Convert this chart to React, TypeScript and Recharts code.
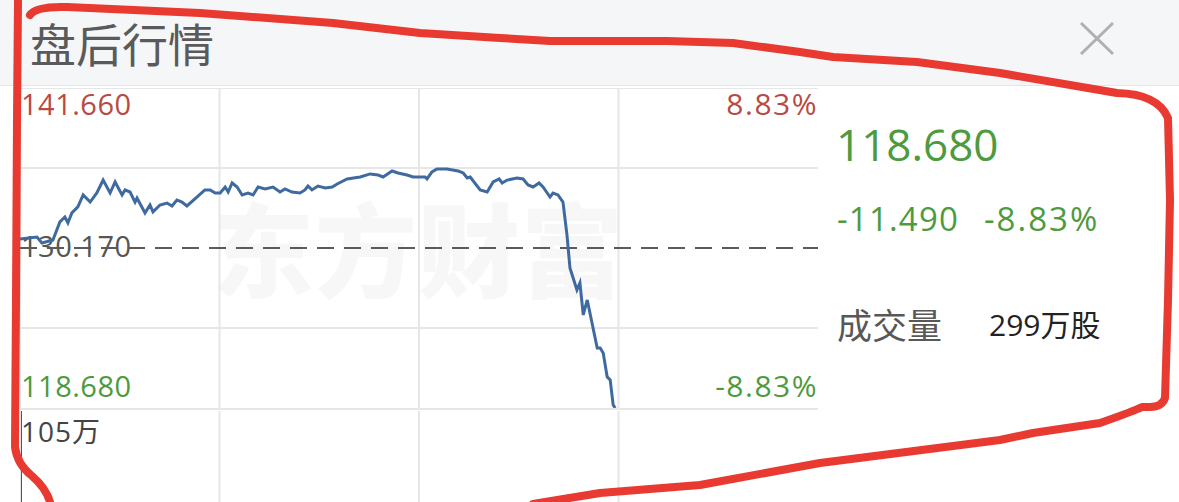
import { LineChart, Line, XAxis, YAxis, ReferenceLine, BarChart, Bar } from 'recharts';

// minute of session (0..240) and last price
const minutes = [
  0, 5.1, 6.6, 9.9, 12.0, 13.5, 14.4, 15.6, 17.4, 19.0, 21.1, 23.1, 25.0, 27.1, 28.6, 30.7, 31.6, 33.1, 34.6, 35.2,
  37.6, 39.1, 40.0, 42.1, 44.2, 45.7, 47.2, 48.7, 50.2, 53.2, 55.6, 57.2, 58.7, 60.2, 61.7, 62.6, 63.8, 65.3, 66.8,
  68.6, 70.1, 71.6, 73.7, 76.1, 78.2, 79.7, 81.8, 84.2, 85.7, 86.6, 87.8, 89.6, 91.8, 93.9, 95.4, 98.4, 102.3, 105.3,
  107.7, 109.2, 111.9, 113.7, 116.4, 118.2, 121.8, 122.4, 123.9, 125.4, 128.4, 131.8, 133.3, 134.5, 135.4, 138.4,
  140.5, 142.3, 144.1, 145.0, 146.5, 149.5, 151.3, 152.8, 154.3, 156.1, 157.3, 159.4, 160.3, 161.8, 163.3, 164.5,
  165.4, 167.5, 168.4, 169.4, 170.6, 173.6, 174.5, 175.4, 176.6, 177.5, 178.4, 179.0,
];
const prices = [
  130.82, 130.96, 130.53, 130.75, 132.04, 132.4, 131.97, 132.69, 133.12, 133.98, 133.47, 134.12, 135.05, 134.12,
  134.91, 133.98, 134.34, 134.19, 133.47, 133.76, 132.69, 133.26, 132.76, 133.26, 133.4, 133.19, 133.62, 133.47,
  133.19, 133.83, 134.34, 134.34, 134.12, 134.12, 134.55, 134.19, 134.84, 134.55, 133.98, 134.12, 133.98, 134.55,
  134.41, 134.55, 134.19, 134.41, 134.19, 134.12, 134.34, 134.62, 134.34, 134.62, 134.48, 134.55, 134.77, 135.13,
  135.27, 135.49, 135.41, 135.27, 135.7, 135.56, 135.41, 135.27, 135.27, 135.13, 135.63, 135.84, 135.84, 135.7,
  135.56, 135.2, 135.27, 134.34, 134.19, 134.91, 135.13, 134.84, 135.05, 135.2, 135.13, 134.7, 134.55, 134.84,
  134.55, 133.83, 134.12, 133.98, 133.47, 131.11, 128.74, 127.16, 127.66, 125.36, 126.44, 122.99, 122.99, 122.63,
  120.91, 120.7, 118.9, 118.68,
];

const volMinutes = [0];
const volumes = [105]; // 万股

const prevClose = 130.17;
const limitUp = 141.66;
const limitDown = 118.68;
const priceGrid = [124.425, 135.915, 141.66];
const timeGrid = [0, 60, 120, 180];

const leftLabels = ['141.660', '130.170', '118.680'];
const rightLabels = ['8.83%', '-8.83%'];
const volLabel = '105万';

const lastPrice = '118.680';
const change = '-11.490';
const changePct = '-8.83%';
const volumeLabel = '成交量';
const volumeText = '299万股';

const lineData = minutes.map((t, i) => ({ t, p: prices[i] }));
const volData = volMinutes.map((t, i) => ({ t, v: volumes[i] }));

const RED = '#b84a44';
const GREEN = '#4e9a3e';
const GRID = '#e6e6e6';
const NUM = '"Open Sans", "Noto Sans CJK SC", sans-serif';
const CJK = '"Noto Sans CJK SC", "Open Sans", sans-serif';

export default function App() {
  return (
    <div
      style={{
        position: 'fixed',
        left: 0,
        top: 0,
        width: 1179,
        height: 502,
        overflow: 'hidden',
        background: '#fff',
        fontFamily: NUM,
      }}
    >
      {/* header */}
      <div
        style={{
          position: 'absolute',
          left: 0,
          top: 0,
          width: 1179,
          height: 85,
          background: '#f5f6f8',
          borderBottom: '1px solid #e4e5e8',
        }}
      >
        <div style={{ position: 'absolute', left: 30, top: 12, fontSize: 46, color: '#5a5a5a', fontFamily: CJK, lineHeight: '60px' }}>
          盘后行情
        </div>
        <svg style={{ position: 'absolute', left: 1078, top: 20 }} width={38} height={38}>
          <line x1={3} y1={3} x2={35} y2={34} stroke="#b0b0b0" strokeWidth={3} />
          <line x1={35} y1={3} x2={3} y2={34} stroke="#b0b0b0" strokeWidth={3} />
        </svg>
      </div>

      {/* watermark */}
      <div
        style={{
          position: 'absolute',
          left: 212,
          top: 176,
          fontSize: 102,
          fontWeight: 900,
          color: '#f7f7f8',
          fontFamily: CJK,
          lineHeight: '140px',
          letterSpacing: 1,
        }}
      >
        东方财富
      </div>

      {/* axis labels under the chart */}
      <div style={{ position: 'absolute', left: 21, top: 85, fontSize: 29, color: RED, lineHeight: '38px', letterSpacing: 0.5 }}>{leftLabels[0]}</div>
      <div style={{ position: 'absolute', left: 21, top: 227, fontSize: 29, color: '#555', lineHeight: '38px', letterSpacing: 0.5 }}>{leftLabels[1]}</div>
      <div style={{ position: 'absolute', left: 21, top: 367, fontSize: 29, color: GREEN, lineHeight: '38px', letterSpacing: 0.5 }}>{leftLabels[2]}</div>
      <div style={{ position: 'absolute', right: 1179 - 818, top: 85, fontSize: 30, color: RED, lineHeight: '38px', letterSpacing: 1.5 }}>{rightLabels[0]}</div>
      <div style={{ position: 'absolute', right: 1179 - 818, top: 367, fontSize: 30, color: GREEN, lineHeight: '38px', letterSpacing: 1.5 }}>{rightLabels[1]}</div>
      <div style={{ position: 'absolute', left: 21, top: 412, fontSize: 28, color: '#444', lineHeight: '38px', letterSpacing: 1 }}>{volLabel}</div>

      {/* price chart */}
      <div style={{ position: 'absolute', left: 20, top: 88 }}>
        <LineChart width={798} height={320} data={lineData} margin={{ top: 0, right: 0, bottom: 0, left: 0 }}>
          <XAxis dataKey="t" type="number" domain={[0, 240]} hide />
          <YAxis type="number" domain={[limitDown, limitUp]} hide />
          {priceGrid.map((p) => (
            <ReferenceLine key={p} y={p} stroke={GRID} strokeWidth={2} />
          ))}
          {timeGrid.map((t) => (
            <ReferenceLine key={t} x={t} stroke={GRID} strokeWidth={2} />
          ))}
          <ReferenceLine y={prevClose} stroke="#5a5a5a" strokeWidth={2} strokeDasharray="17 10" />
          <Line dataKey="p" type="linear" stroke="#3f6a9f" strokeWidth={3} dot={false} isAnimationActive={false} />
        </LineChart>
      </div>

      {/* volume chart */}
      <div style={{ position: 'absolute', left: 20, top: 409 }}>
        <BarChart width={798} height={160} data={volData} margin={{ top: 2, right: 0, bottom: 0, left: 0 }}>
          <XAxis dataKey="t" type="number" domain={[0, 240]} hide />
          <YAxis type="number" domain={[0, 105]} hide />
          {timeGrid.map((t) => (
            <ReferenceLine key={t} x={t} stroke={GRID} strokeWidth={2} />
          ))}
          <Bar dataKey="v" fill="#555" barSize={3} isAnimationActive={false} />
        </BarChart>
      </div>
      <div style={{ position: 'absolute', left: 20, top: 408, width: 798, height: 2, background: GRID }} />

      {/* right panel */}
      <div style={{ position: 'absolute', left: 836, top: 115, fontSize: 44, color: GREEN, lineHeight: '58px' }}>{lastPrice}</div>
      <div style={{ position: 'absolute', left: 837, top: 197, fontSize: 33, color: GREEN, lineHeight: '44px', letterSpacing: 1.2 }}>{change}</div>
      <div style={{ position: 'absolute', left: 984, top: 197, fontSize: 33, color: GREEN, lineHeight: '44px', letterSpacing: 2 }}>{changePct}</div>
      <div style={{ position: 'absolute', left: 837, top: 300, fontSize: 35, color: '#585858', lineHeight: '48px', fontFamily: CJK }}>{volumeLabel}</div>
      <div style={{ position: 'absolute', left: 989, top: 304, fontSize: 30, color: '#222', lineHeight: '42px' }}>{volumeText}</div>

      {/* hand-drawn red marking */}
      <svg style={{ position: 'absolute', left: 0, top: 0, pointerEvents: 'none' }} width={1179} height={502}>
        <path
          d="M 18 0 L 17 120 L 16 300 L 15 447 Q 17 464 32 476 Q 46 488 50 502"
          fill="none"
          stroke="#e83a30"
          strokeWidth={8}
          strokeLinecap="round"
          strokeLinejoin="round"
        />
        <path
          d="M 30 15 Q 36 6 67 7 L 200 13 L 333 23 L 420 33 L 500 38 L 550 41 L 667 41 L 733 43 L 800 52 L 833 57 L 917 62 L 1000 73 L 1117 93 Q 1158 94 1168 118 L 1170 200 L 1168 300 L 1165 398 Q 1162 407 1150 407 L 1142 407 Q 1134 411 1100 423 L 1033 433 L 1000 440 L 820 463 L 700 485 L 600 493 L 533 504"
          fill="none"
          stroke="#e83a30"
          strokeWidth={8}
          strokeLinecap="round"
          strokeLinejoin="round"
        />
      </svg>
    </div>
  );
}
